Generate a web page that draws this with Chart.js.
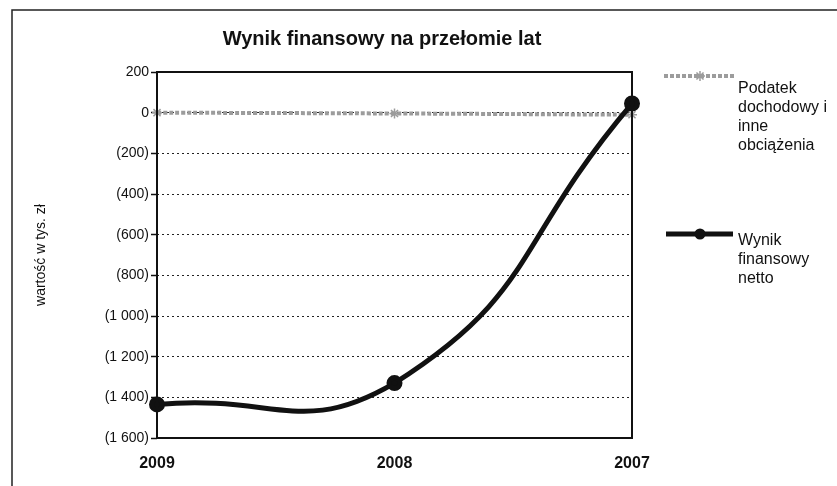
<!DOCTYPE html>
<html lang="pl">
<head>
<meta charset="utf-8">
<title>Wynik finansowy na przełomie lat</title>
<script src="https://cdn.jsdelivr.net/npm/chart.js@4/dist/chart.umd.min.js"></script>
<style>
  html, body { margin: 0; padding: 0; background: #ffffff; }
  #wrap { position: relative; width: 837px; height: 486px; }
  canvas { position: absolute; left: 0; top: 0; }
</style>
</head>
<body>
<div id="wrap"><canvas id="chart" width="837" height="486"></canvas></div>
<script>
// Lata na osi X (od 2009 do 2007)
const years = ['2009', '2008', '2007'];

// Wartości w tys. zł
const taxValues = [0, -4, -10];          // Podatek dochodowy i inne obciążenia
const netValues = [-1435, -1330, 45];    // Wynik finansowy netto

// Oś Y
const yMin = -1600;
const yMax = 200;
const yStep = 200;

const chartTitle = 'Wynik finansowy na przełomie lat';
const yTitle = 'wartość w tys. zł';
const taxLabel = ['Podatek', 'dochodowy i', 'inne', 'obciążenia'];
const netLabel = ['Wynik', 'finansowy', 'netto'];

const FONT = '"Liberation Sans", Arial, Helvetica, sans-serif';
const GRAY = '#9c9c9c';

// Format księgowy: liczby ujemne w nawiasach, spacja jako separator tysięcy
function fmt(v) {
  const abs = Math.abs(v);
  const s = abs >= 1000 ? Math.floor(abs / 1000) + ' ' + String(abs % 1000).padStart(3, '0') : String(abs);
  return v < 0 ? '(' + s + ')' : s;
}

// Ramka, tytuł, obramowanie obszaru wykresu i legenda
const decorations = {
  id: 'decorations',
  beforeDraw(chart) {
    const ctx = chart.ctx;
    ctx.save();
    ctx.fillStyle = '#ffffff';
    ctx.fillRect(0, 0, chart.width, chart.height);
    ctx.strokeStyle = '#222';
    ctx.lineWidth = 1.5;
    ctx.beginPath();
    ctx.moveTo(12, chart.height);
    ctx.lineTo(12, 10);
    ctx.lineTo(chart.width, 10);
    ctx.stroke();

    ctx.fillStyle = '#111';
    ctx.font = 'bold 20px ' + FONT;
    ctx.textAlign = 'center';
    ctx.textBaseline = 'alphabetic';
    ctx.fillText(chartTitle, 382, 45);
    ctx.restore();
  },
  afterDatasetsDraw(chart) {
    const ctx = chart.ctx;
    const a = chart.chartArea;
    ctx.save();
    ctx.strokeStyle = '#111';
    ctx.lineWidth = 2;
    ctx.strokeRect(a.left, a.top, a.right - a.left, a.bottom - a.top);
    ctx.restore();
  },
  afterDraw(chart) {
    const ctx = chart.ctx;
    ctx.save();
    // Legenda: podatek
    ctx.strokeStyle = GRAY;
    ctx.lineWidth = 4;
    ctx.setLineDash([4, 2]);
    ctx.beginPath();
    ctx.moveTo(664, 76);
    ctx.lineTo(735, 76);
    ctx.stroke();
    ctx.setLineDash([]);
    ctx.lineWidth = 1.5;
    ctx.beginPath();
    for (let i = 0; i < 4; i++) {
      const ang = i * Math.PI / 4;
      ctx.moveTo(700 - 5 * Math.cos(ang), 76 - 5 * Math.sin(ang));
      ctx.lineTo(700 + 5 * Math.cos(ang), 76 + 5 * Math.sin(ang));
    }
    ctx.stroke();

    // Legenda: wynik netto
    ctx.strokeStyle = '#111';
    ctx.fillStyle = '#111';
    ctx.lineWidth = 5;
    ctx.beginPath();
    ctx.moveTo(666, 234);
    ctx.lineTo(733, 234);
    ctx.stroke();
    ctx.beginPath();
    ctx.arc(700, 234, 5.5, 0, Math.PI * 2);
    ctx.fill();

    ctx.font = '16px ' + FONT;
    ctx.textAlign = 'left';
    ctx.textBaseline = 'alphabetic';
    taxLabel.forEach((t, i) => ctx.fillText(t, 738, 93 + i * 19));
    netLabel.forEach((t, i) => ctx.fillText(t, 738, 245 + i * 19));
    ctx.restore();
  }
};

new Chart(document.getElementById('chart'), {
  type: 'line',
  data: {
    labels: years,
    datasets: [
      {
        label: taxLabel.join(' '),
        data: taxValues,
        borderColor: GRAY,
        borderWidth: 4,
        borderDash: [4, 2],
        pointStyle: 'star',
        pointRadius: 5,
        pointBorderColor: GRAY,
        pointBackgroundColor: GRAY,
        pointBorderWidth: 1.5,
        tension: 0.5,
        clip: false,
        order: 2
      },
      {
        label: netLabel.join(' '),
        data: netValues,
        borderColor: '#111',
        backgroundColor: '#111',
        borderWidth: 5,
        pointStyle: 'circle',
        pointRadius: 5.5,
        pointBackgroundColor: '#111',
        pointBorderColor: '#111',
        tension: 0.5,
        clip: false,
        order: 1
      }
    ]
  },
  options: {
    responsive: false,
    animation: false,
    devicePixelRatio: 1,
    layout: { padding: { left: 33, right: 205, top: 72, bottom: 0 } },
    plugins: {
      legend: { display: false },
      title: { display: false },
      tooltip: { enabled: false }
    },
    scales: {
      x: {
        type: 'category',
        offset: false,
        grid: { display: false, drawTicks: false },
        border: { display: false },
        ticks: {
          color: '#111',
          font: { family: FONT, size: 16, weight: 'bold' },
          padding: 16,
          maxRotation: 0
        },
        afterFit(scale) { scale.height = 48; }
      },
      y: {
        min: yMin,
        max: yMax,
        border: { display: false, dash: [2, 3] },
        grid: {
          color: '#222',
          lineWidth: 1,
          drawTicks: true,
          tickLength: 6,
          tickColor: '#111',
          tickBorderDash: [],
          tickWidth: 1.5
        },
        ticks: {
          stepSize: yStep,
          color: '#111',
          padding: 2,
          font: { family: FONT, size: 14 },
          callback: (v) => fmt(v)
        },
        title: {
          display: true,
          text: yTitle,
          color: '#111',
          padding: 0,
          font: { family: FONT, size: 14 }
        },
        afterFit(scale) { scale.width = 124; }
      }
    }
  },
  plugins: [decorations]
});
</script>
</body>
</html>
